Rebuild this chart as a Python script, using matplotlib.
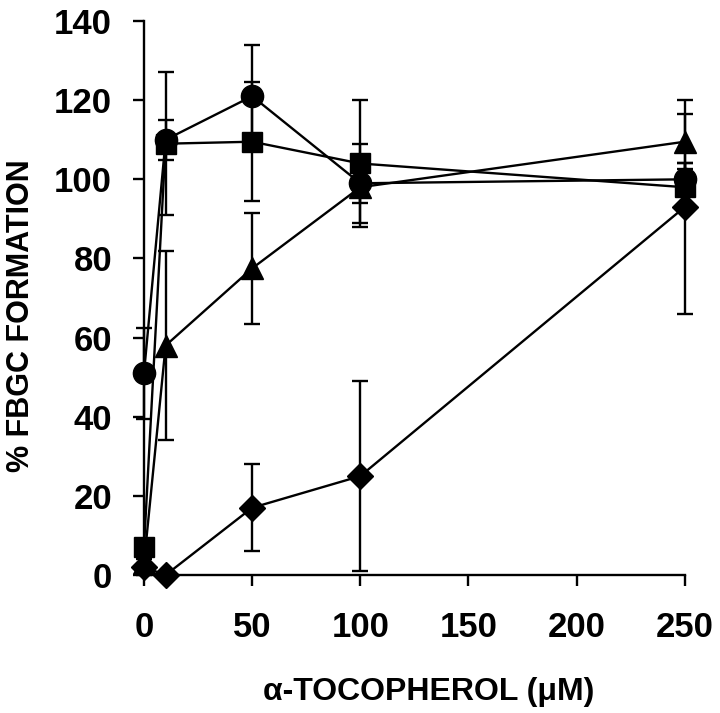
import matplotlib
matplotlib.use("Agg")
import matplotlib.pyplot as plt

# ── Data
conc = [0, 10, 50, 100, 250]

circle_y   = [51, 110, 121, 99, 100]
circle_err = [11.5, 5, 13, 10, 4]

square_y   = [7, 109, 109.5, 104, 98]
square_err = [2, 18, 15, 16, 6]

triangle_y   = [3, 58, 77.5, 98, 109.5]
triangle_err = [2, 24, 14, 4, 7]

diamond_y   = [2, 0, 17, 25, 93]
diamond_err = [2, 0, 11, 24, 27]

x_ticks = [0, 50, 100, 150, 200, 250]
y_ticks = [0, 20, 40, 60, 80, 100, 120, 140]

plt.rcParams["font.family"] = ["Liberation Sans", "DejaVu Sans"]
plt.rcParams["font.weight"] = "bold"

fig = plt.figure(figsize=(7.2, 7.13), dpi=100)
ax = fig.add_axes([0.2, 0.1935, 0.751, 0.777])

series = [
    (circle_y, circle_err, "o", 16),
    (square_y, square_err, "s", 15),
    (triangle_y, triangle_err, "^", 16),
    (diamond_y, diamond_err, "D", 13),
]
for y, err, mk, ms in series:
    ax.errorbar(conc, y, yerr=err, fmt="-", marker=mk, ms=ms, color="black",
                mfc="black", mec="black", lw=1.7, elinewidth=1.7,
                capsize=6, capthick=1.7, clip_on=False)

ax.set_xlim(0, 250)
ax.set_ylim(0, 140)
ax.set_xticks(x_ticks)
ax.set_yticks(y_ticks)

for side in ["top", "right"]:
    ax.spines[side].set_visible(False)
for side in ["left", "bottom"]:
    ax.spines[side].set_linewidth(1.7)

ax.tick_params(axis="both", direction="out", length=8, width=1.7, labelsize=25)
ax.tick_params(axis="y", pad=15)
ax.tick_params(axis="x", pad=18)
for lab in ax.get_xticklabels() + ax.get_yticklabels():
    lab.set_fontweight("bold")

ax.set_xlabel("α-TOCOPHEROL (μM)", fontsize=23, fontweight="bold")
ax.set_ylabel("% FBGC FORMATION", fontsize=22, fontweight="bold")
ax.xaxis.set_label_coords(0.527, -0.184)
ax.yaxis.set_label_coords(-0.2, 0.469)

fig.savefig("out.png", dpi=100)
